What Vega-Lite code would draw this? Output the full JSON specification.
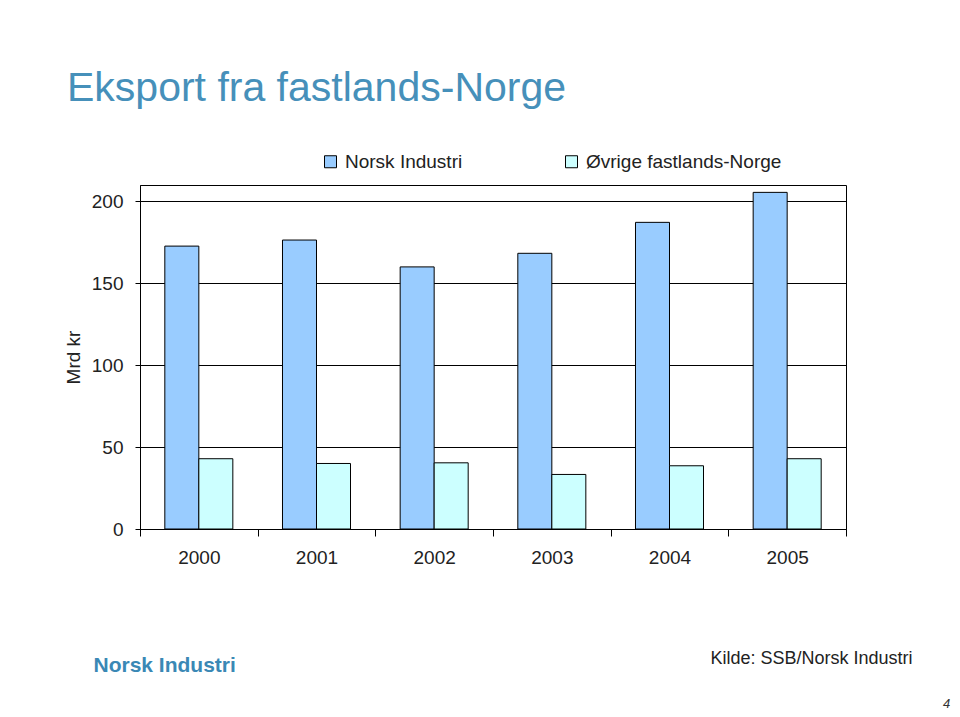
{
  "$schema": "https://vega.github.io/schema/vega-lite/v6.json",
  "width": 706,
  "height": 344,
  "autosize": {"type": "none"},
  "padding": {"left": 140, "top": 185, "right": 114, "bottom": 188},
  "background": "white",
  "title": {
    "text": "Eksport fra fastlands-Norge",
    "anchor": "start",
    "frame": "group",
    "dx": -73,
    "offset": 10,
    "baseline": "alphabetic",
    "fontSize": 41,
    "font": "Liberation Sans",
    "fontWeight": "normal",
    "color": "#4690BA"
  },
  "data": {
    "values": [
      {"year": "2000", "series": "Norsk Industri", "value": 172.7},
      {"year": "2000", "series": "Øvrige fastlands-Norge", "value": 42.9},
      {"year": "2001", "series": "Norsk Industri", "value": 176.4},
      {"year": "2001", "series": "Øvrige fastlands-Norge", "value": 40.0},
      {"year": "2002", "series": "Norsk Industri", "value": 160.0},
      {"year": "2002", "series": "Øvrige fastlands-Norge", "value": 40.4},
      {"year": "2003", "series": "Norsk Industri", "value": 168.3},
      {"year": "2003", "series": "Øvrige fastlands-Norge", "value": 33.3},
      {"year": "2004", "series": "Norsk Industri", "value": 187.2},
      {"year": "2004", "series": "Øvrige fastlands-Norge", "value": 38.6},
      {"year": "2005", "series": "Norsk Industri", "value": 205.5},
      {"year": "2005", "series": "Øvrige fastlands-Norge", "value": 42.9}
    ]
  },
  "layer": [
    {
      "transform": [{"filter": "datum.series === 'Norsk Industri'"}],
      "mark": {"type": "bar", "stroke": "black", "strokeWidth": 1},
      "encoding": {
        "x": {
          "field": "year", "type": "nominal",
          "scale": {"paddingInner": 0, "paddingOuter": 0},
          "axis": {
            "orient": "bottom", "labelAngle": 0, "tickBand": "extent", "tickSize": 7, "labelPadding": 12,
            "title": "Kilde: SSB/Norsk Industri", "titleX": 772, "titleY": 129, "titleAlign": "right",
            "titleBaseline": "middle", "titleFontSize": 18, "titleAngle": 0
          }
        },
        "xOffset": {
          "field": "series", "type": "nominal",
          "sort": ["Norsk Industri", "Øvrige fastlands-Norge"],
          "scale": {"domain": ["Norsk Industri", "Øvrige fastlands-Norge"], "paddingInner": 0, "paddingOuter": 0.73}
        },
        "y": {
          "field": "value", "type": "quantitative",
          "scale": {"domain": [0, 210], "nice": false},
          "axis": {
            "values": [0, 50, 100, 150, 200], "grid": true, "tickSize": 5, "labelPadding": 12,
            "title": "Mrd kr", "titleX": -67, "titleY": 172, "titleAngle": -90,
            "titleAlign": "center", "titleBaseline": "middle"
          }
        },
        "color": {
          "field": "series", "type": "nominal",
          "scale": {"domain": ["Norsk Industri", "Øvrige fastlands-Norge"], "range": ["#99CCFF", "#CCFFFF"]},
          "legend": {
            "orient": "none", "legendX": 181, "legendY": -33, "direction": "horizontal", "title": null,
            "symbolType": "square", "symbolSize": 144, "symbolStrokeColor": "black", "symbolStrokeWidth": 1,
            "labelFontSize": 19, "labelColor": "#222", "labelFont": "Liberation Sans", "labelLimit": 400,
            "columnPadding": 99, "padding": 0, "labelOffset": 5
          }
        }
      }
    },
    {
      "transform": [{"filter": "datum.series === 'Øvrige fastlands-Norge'"}],
      "mark": {"type": "bar", "stroke": "black", "strokeWidth": 1},
      "encoding": {
        "x": {
          "field": "year", "type": "nominal",
          "scale": {"paddingInner": 0, "paddingOuter": 0},
          "axis": {
            "orient": "top", "labels": false, "ticks": false, "domain": false, "grid": false,
            "title": "Norsk Industri", "titleX": -47, "titleY": 480, "titleAlign": "left",
            "titleBaseline": "middle", "titleFontSize": 21, "titleFontWeight": "bold",
            "titleColor": "#3A88B5", "titleAngle": 0
          }
        },
        "xOffset": {
          "field": "series", "type": "nominal",
          "sort": ["Norsk Industri", "Øvrige fastlands-Norge"],
          "scale": {"domain": ["Norsk Industri", "Øvrige fastlands-Norge"], "paddingInner": 0, "paddingOuter": 0.73}
        },
        "y": {
          "field": "value", "type": "quantitative",
          "scale": {"domain": [0, 210], "nice": false},
          "axis": {
            "orient": "right", "labels": false, "ticks": false, "domain": false, "grid": false,
            "title": "4", "titleX": 100, "titleY": 518, "titleAngle": 0, "titleAlign": "center",
            "titleBaseline": "middle", "titleFontSize": 13, "titleFontStyle": "italic", "titleColor": "#333"
          }
        },
        "color": {
          "field": "series", "type": "nominal",
          "scale": {"domain": ["Norsk Industri", "Øvrige fastlands-Norge"], "range": ["#99CCFF", "#CCFFFF"]},
          "legend": {
            "orient": "none", "legendX": 181, "legendY": -33, "direction": "horizontal", "title": null,
            "symbolType": "square", "symbolSize": 144, "symbolStrokeColor": "black", "symbolStrokeWidth": 1,
            "labelFontSize": 19, "labelColor": "#222", "labelFont": "Liberation Sans", "labelLimit": 400,
            "columnPadding": 99, "padding": 0, "labelOffset": 5
          }
        }
      }
    }
  ],
  "resolve": {"axis": {"x": "independent", "y": "independent"}},
  "config": {
    "font": "Liberation Sans",
    "axis": {
      "labelFont": "Liberation Sans", "labelFontSize": 19, "labelColor": "#222",
      "titleFont": "Liberation Sans", "titleFontSize": 19, "titleFontWeight": "normal", "titleColor": "#222",
      "domainColor": "black", "tickColor": "black", "gridColor": "black", "gridOpacity": 1, "gridWidth": 1
    },
    "view": {"stroke": "black", "strokeWidth": 1}
  }
}
